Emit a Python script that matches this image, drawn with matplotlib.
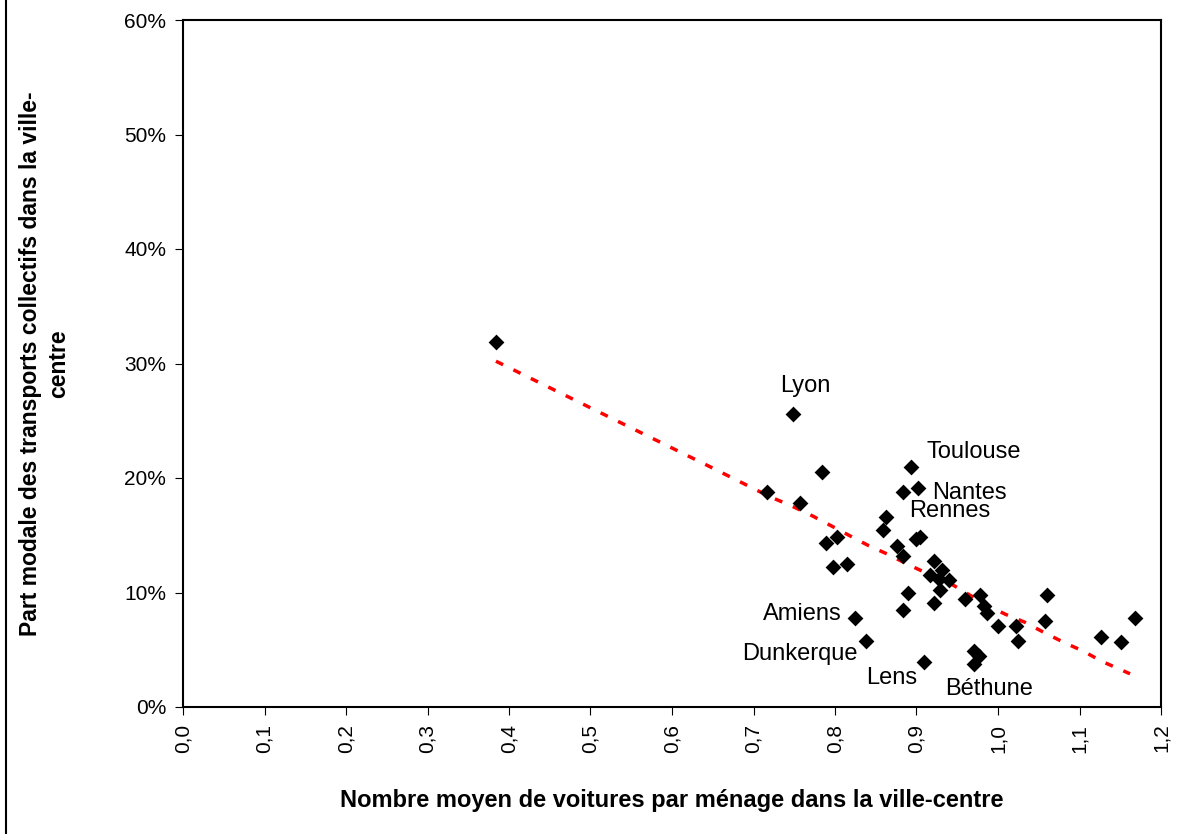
import numpy as np
import matplotlib
matplotlib.use("Agg")
import matplotlib.pyplot as plt
from matplotlib.lines import Line2D
from matplotlib.ticker import FuncFormatter

plt.rcParams['font.family'] = ['Liberation Sans', 'DejaVu Sans']

# Average cars per household in the central city vs public transport share (%)
cars = [0.384, 0.749, 0.784, 0.717, 0.757, 0.893, 0.902, 0.884, 0.862, 0.859,
        0.899, 0.904, 0.802, 0.789, 0.876, 0.884, 0.798, 0.815, 0.922, 0.931,
        0.917, 0.927, 0.940, 0.929, 0.889, 1.060, 0.978, 0.922, 0.960, 0.983,
        0.986, 0.884, 0.824, 1.058, 1.168, 1.000, 1.022, 1.024, 1.126, 1.151,
        0.838, 0.909, 0.971, 0.977, 0.971]
share = [31.9, 25.6, 20.5, 18.75, 17.8, 20.96, 19.1, 18.75, 16.57, 15.46,
         14.7, 14.85, 14.82, 14.35, 14.06, 13.2, 12.25, 12.46, 12.78, 12.0,
         11.5, 11.2, 11.1, 10.2, 9.93, 9.78, 9.78, 9.1, 9.4, 8.8,
         8.2, 8.5, 7.75, 7.5, 7.75, 7.07, 7.07, 5.8, 6.14, 5.65,
         5.8, 3.9, 4.9, 4.45, 3.75]

# Trend line
trend_x = [0.384, 0.649, 0.719, 0.747, 0.772, 0.796, 0.817, 0.841, 0.866,
           0.888, 0.915, 0.939, 0.960, 0.984, 1.009, 1.033, 1.058, 1.082,
           1.104, 1.127, 1.162]
trend_y = [30.2, 20.9, 18.4, 17.55, 16.7, 15.8, 15.0, 14.1, 13.3,
           12.5, 11.6, 10.9, 10.0, 9.0, 8.1, 7.4, 6.45, 5.6,
           4.9, 4.0, 2.9]

# City labels: text, position (data), alignment
city_names = ['Lyon', 'Toulouse', 'Nantes', 'Rennes', 'Amiens', 'Dunkerque', 'Lens', 'Béthune']
city_x = [0.764, 0.912, 0.919, 0.891, 0.808, 0.828, 0.901, 0.935]
city_y = [28.0, 22.3, 18.65, 17.15, 8.1, 4.6, 2.5, 1.6]
city_ha = ['center', 'left', 'left', 'left', 'right', 'right', 'right', 'left']

fig = plt.figure(figsize=(11.92, 8.34), dpi=100)
ax = fig.add_axes([183 / 1192, 1 - 707 / 834, (1161 - 183) / 1192, (707 - 20) / 834])

ax.plot(trend_x, trend_y, color='red', linestyle=(0, (2.3, 3.3)), linewidth=2.5,
        solid_capstyle='butt', dash_capstyle='butt', zorder=2)
ax.scatter(cars, share, marker='D', s=65, color='black', zorder=3, linewidths=0)

for name, tx, ty, ha in zip(city_names, city_x, city_y, city_ha):
    ax.text(tx, ty, name, ha=ha, va='center', fontsize=17)

ax.set_xlim(0, 1.2)
ax.set_ylim(0, 60)
ax.set_xticks(np.arange(0, 1.21, 0.1))
ax.set_yticks(np.arange(0, 61, 10))
ax.xaxis.set_major_formatter(FuncFormatter(lambda v, p: f"{v:.1f}".replace('.', ',')))
ax.yaxis.set_major_formatter(FuncFormatter(lambda v, p: f"{v:.0f}%"))
ax.tick_params(axis='x', labelrotation=90, labelsize=15, direction='out', length=6, pad=6)
ax.tick_params(axis='y', labelsize=15, direction='out', length=6, pad=6)
for sp in ax.spines.values():
    sp.set_linewidth(1.5)

ax.set_xlabel("Nombre moyen de voitures par ménage dans la ville-centre",
              fontsize=17, fontweight='bold')
ax.xaxis.set_label_coords(0.5, -(789 - 707) / 687)
ax.set_ylabel("Part modale des transports collectifs dans la ville-\ncentre",
              fontsize=16.5, fontweight='bold', linespacing=1.25)
ax.yaxis.set_label_coords(-(183 - 70) / 978, 0.5)

# left edge of the chart frame
fig.add_artist(Line2D([5.5 / 1192, 5.5 / 1192], [0, 1], color='black', linewidth=1.5,
                      transform=fig.transFigure))

fig.savefig('out.png', dpi=100)
